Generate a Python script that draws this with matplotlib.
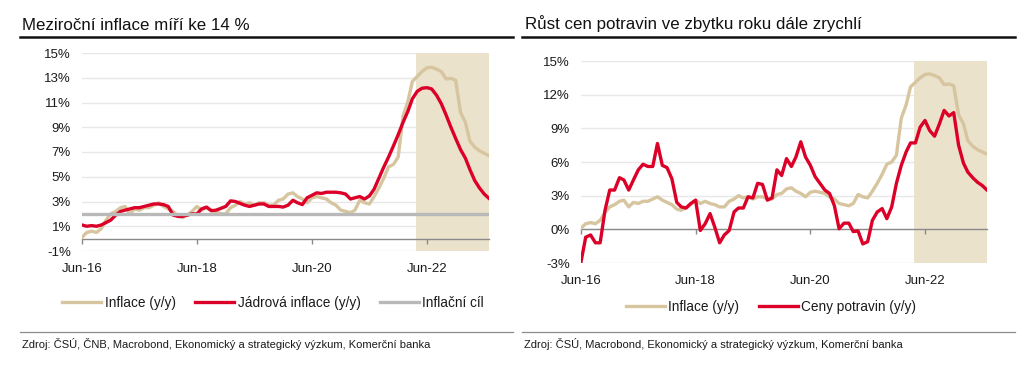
import matplotlib
matplotlib.use("Agg")
import matplotlib.pyplot as plt
import matplotlib.dates as mdates
from matplotlib.ticker import PercentFormatter, FixedLocator
from matplotlib.lines import Line2D
import pandas as pd

plt.rcParams['font.family'] = ['Liberation Sans', 'DejaVu Sans']
plt.rcParams['axes.unicode_minus'] = False

# ---------------- data (monthly, Jun 2016 - Jul 2023) ----------------
start_month = '2016-06-01'
forecast_start = '2022-03-22'

inflation = [0.1, 0.5, 0.6, 0.5, 0.8, 1.5, 2.0,
             2.2, 2.5, 2.6, 2.0, 2.4, 2.3, 2.5, 2.5, 2.7, 2.9, 2.6, 2.4,
             2.2, 1.8, 1.7, 1.9, 2.2, 2.6, 2.3, 2.5, 2.3, 2.2, 2.0, 2.0,
             2.5, 2.7, 3.0, 2.8, 2.9, 2.7, 2.9, 2.9, 2.7, 2.7, 3.1, 3.2,
             3.6, 3.7, 3.4, 3.2, 2.9, 3.3, 3.4, 3.3, 3.2, 2.9, 2.7, 2.3,
             2.2, 2.1, 2.3, 3.1, 2.9, 2.8, 3.4, 4.1, 4.9, 5.8, 6.0, 6.6,
             9.9, 11.1, 12.7, 13.1, 13.5, 13.8, 13.85, 13.7, 13.5, 12.9, 12.95, 12.8,
             10.2, 9.4, 7.9, 7.4, 7.1, 6.9, 6.7]

core_inflation = [1.1, 1.0, 1.05, 1.0, 1.1, 1.3, 1.5,
                  1.9, 2.2, 2.3, 2.4, 2.5, 2.5, 2.6, 2.7, 2.8, 2.8, 2.75, 2.6,
                  1.9, 1.8, 1.8, 1.9, 2.0, 2.0, 2.4, 2.55, 2.25, 2.3, 2.45, 2.6,
                  3.05, 3.0, 2.85, 2.7, 2.6, 2.7, 2.8, 2.8, 2.6, 2.6, 2.6, 2.55,
                  2.7, 3.1, 2.9, 2.75, 3.3, 3.5, 3.7, 3.65, 3.75, 3.75, 3.75, 3.7,
                  3.6, 3.2, 3.3, 3.4, 3.2, 3.45, 4.0, 4.9, 5.8, 6.6, 7.5, 8.4,
                  9.4, 10.3, 11.3, 11.9, 12.15, 12.2, 12.1, 11.6, 10.9, 10.0, 9.0, 8.1,
                  7.2, 6.5, 5.6, 4.7, 4.1, 3.6, 3.25]

food_prices = [-2.9, -0.7, -0.5, -1.2, -1.2, 1.7, 3.5,
               3.5, 4.6, 4.4, 3.5, 4.4, 5.3, 5.8, 5.6, 5.6, 7.65, 5.7, 5.5,
               4.5, 2.4, 2.0, 1.9, 2.3, 2.6, -0.1, 0.5, 1.4, 0.2, -1.2, -0.5,
               -0.1, 1.55, 1.9, 1.9, 2.9, 2.8, 4.1, 4.0, 2.6, 2.8, 5.3, 4.8,
               6.3, 5.6, 6.45, 7.8, 6.45, 5.7, 4.7, 4.1, 3.5, 3.2, 2.1, 0.05,
               0.55, 0.55, -0.2, -0.15, -1.3, -1.1, 0.8, 1.55, 1.85, 0.95, 2.0, 4.1,
               5.7, 6.9, 7.7, 7.7, 9.1, 9.7, 8.8, 8.3, 9.4, 10.6, 10.1, 10.4,
               7.5, 5.9, 5.1, 4.6, 4.2, 3.9, 3.5]

inflation_target = 2.0

left_yticks = [-1, 1, 3, 5, 7, 9, 11, 13, 15]
right_yticks = [-3, 0, 3, 6, 9, 12, 15]

title_left = "Meziroční inflace míří ke 14 %"
title_right = "Růst cen potravin ve zbytku roku dále zrychlí"
source_left = "Zdroj: ČSÚ, ČNB, Macrobond, Ekonomický a strategický výzkum, Komerční banka"
source_right = "Zdroj: ČSÚ, Macrobond, Ekonomický a strategický výzkum, Komerční banka"
labels_left = ["Inflace (y/y)", "Jádrová inflace (y/y)", "Inflační cíl"]
labels_right = ["Inflace (y/y)", "Ceny potravin (y/y)"]

# ---------------- style ----------------
BEIGE = '#d6c59e'
RED = '#dc0028'
GREY_T = '#b9b9b9'
SHADE = '#ebe2cc'
GRID = '#e8e8e8'
AXIS = '#8a8a8a'
TXT = '#1a1a1a'

dates = pd.date_range(start_month, periods=len(inflation), freq='MS')
W, H = 1023, 365
fig = plt.figure(figsize=(W / 100, H / 100), dpi=100)


def fx(px):
    return px / W


def fy(py):
    return 1 - py / H


def setup(ax, yticks, label_pad):
    ax.set_xlim(dates[0], dates[-1])
    ax.set_ylim(yticks[0], yticks[-1])
    ax.yaxis.set_major_locator(FixedLocator(yticks))
    ax.yaxis.set_major_formatter(PercentFormatter(decimals=0))
    ax.xaxis.set_major_locator(mdates.YearLocator(base=2, month=6, day=1))
    ax.xaxis.set_major_formatter(mdates.DateFormatter('%b-%y'))
    for s in ax.spines.values():
        s.set_visible(False)
    ax.tick_params(axis='both', length=0, labelsize=9.5, colors=TXT)
    ax.tick_params(axis='y', pad=8)
    ax.tick_params(axis='x', pad=label_pad)
    ax.grid(axis='y', color=GRID, lw=1.0, zorder=0)
    ax.set_axisbelow(True)
    ax.axvspan(pd.Timestamp(forecast_start), dates[-1], color=SHADE, lw=0, zorder=1)
    # zero line with tick marks
    frac0 = (0 - yticks[0]) / (yticks[-1] - yticks[0])
    sec = ax.secondary_xaxis(frac0)
    sec.set_zorder(2.5)
    sec.set_xticks([mdates.date2num(t) for t in
                    pd.date_range('2016-06-01', dates[-1], freq='24MS')])
    sec.tick_params(axis='x', direction='out', length=3.5, width=1,
                    color=AXIS, labelbottom=False, labeltop=False)
    for s in sec.spines.values():
        s.set_color(AXIS)
        s.set_linewidth(1.0)


# left panel
ax1 = fig.add_axes([fx(82), fy(251), fx(407), 198 / H])
setup(ax1, left_yticks, 9)
l1, = ax1.plot(dates, inflation, color=BEIGE, lw=2.4, zorder=3)
l2, = ax1.plot(dates, core_inflation, color=RED, lw=2.4, zorder=4)
l3 = ax1.axhline(inflation_target, color=GREY_T, lw=2.4, zorder=5)
ax1.legend([l1, l2, l3], labels_left, loc='center', ncol=3, frameon=False,
           bbox_to_anchor=(fx(273), fy(303)), bbox_transform=fig.transFigure,
           fontsize=9.8, handlelength=2.9, handletextpad=0.25, columnspacing=1.4,
           labelcolor=TXT)

# right panel
ax2 = fig.add_axes([fx(581), fy(263), fx(406), 202 / H])
setup(ax2, right_yticks, 9)
r1, = ax2.plot(dates, inflation, color=BEIGE, lw=2.4, zorder=3)
r2, = ax2.plot(dates, food_prices, color=RED, lw=2.4, zorder=4)
ax2.legend([r1, r2], labels_right, loc='center', ncol=2, frameon=False,
           bbox_to_anchor=(fx(771), fy(307)), bbox_transform=fig.transFigure,
           fontsize=9.8, handlelength=2.9, handletextpad=0.25, columnspacing=1.4,
           labelcolor=TXT)

# titles, rules, sources
fig.text(fx(22), fy(29.5), title_left, fontsize=12.2, color='#111111', va='baseline')
fig.text(fx(525), fy(29.5), title_right, fontsize=12.2, color='#111111', va='baseline')
fig.add_artist(Line2D([fx(20), fx(513)], [fy(37), fy(37)], color='#111111', lw=1.8))
fig.add_artist(Line2D([fx(522), fx(1015)], [fy(37), fy(37)], color='#111111', lw=1.8))
fig.add_artist(Line2D([fx(20), fx(513)], [fy(332), fy(332)], color='#8c8c8c', lw=0.9))
fig.add_artist(Line2D([fx(522), fx(1015)], [fy(332), fy(332)], color='#8c8c8c', lw=0.9))
fig.text(fx(22.5), fy(344), source_left, fontsize=8, color=TXT, va='center')
fig.text(fx(524), fy(344), source_right, fontsize=8, color=TXT, va='center')

fig.savefig('out.png', dpi=100, facecolor='white')
